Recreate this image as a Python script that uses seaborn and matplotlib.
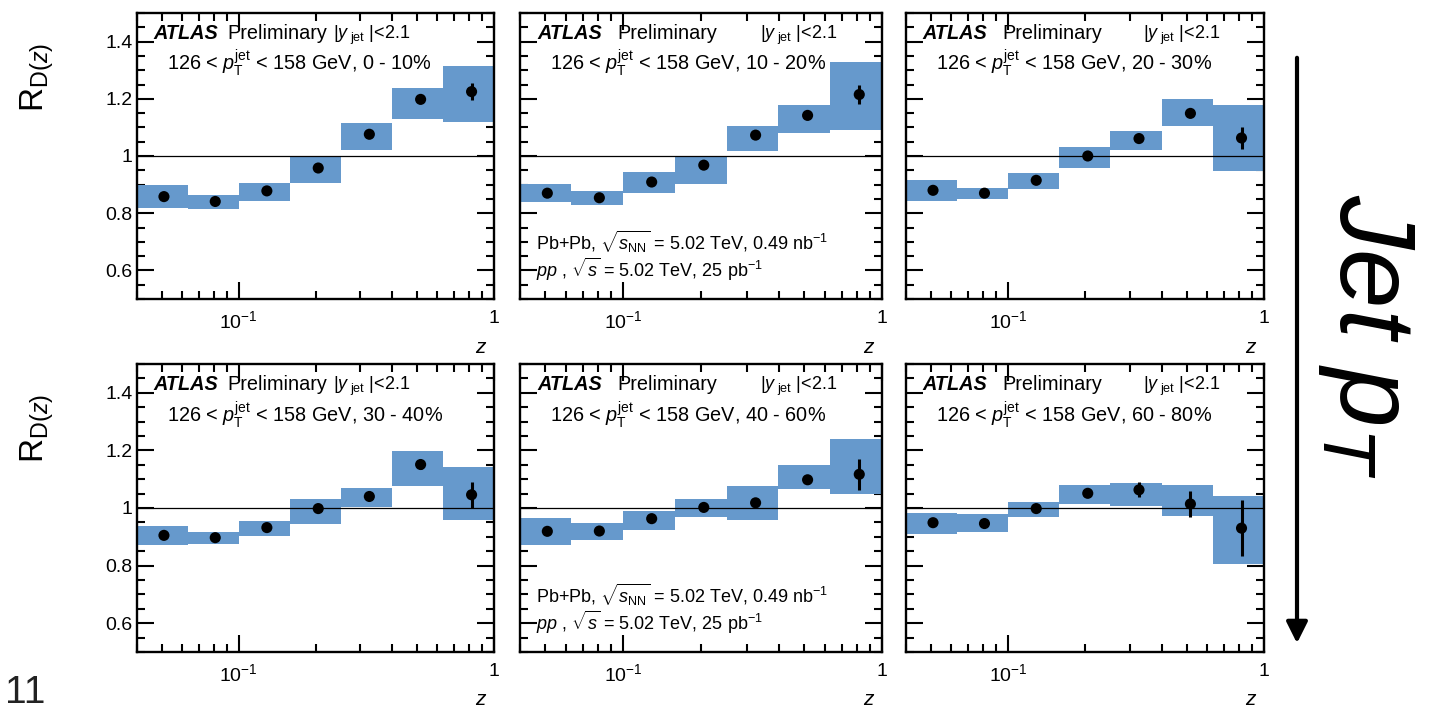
import numpy as np
import pandas as pd
import matplotlib
matplotlib.use("Agg")
import matplotlib.pyplot as plt
from matplotlib.ticker import MultipleLocator, LogLocator, NullFormatter
import seaborn as sns

# ---------------- data ----------------
z_points = [0.051, 0.081, 0.129, 0.205, 0.325, 0.516, 0.817]
z_edges = [0.0398, 0.0631, 0.1, 0.1585, 0.2512, 0.3981, 0.631, 1.0]

centrality = ["0 - 10%", "10 - 20%", "20 - 30%", "30 - 40%", "40 - 60%", "60 - 80%"]

r_0_10 = [0.858, 0.841, 0.878, 0.958, 1.076, 1.198, 1.225]
lo_0_10 = [0.819, 0.813, 0.844, 0.906, 1.021, 1.129, 1.119]
hi_0_10 = [0.899, 0.864, 0.904, 0.996, 1.115, 1.239, 1.315]
st_0_10 = [0.005, 0.005, 0.005, 0.006, 0.008, 0.012, 0.030]

r_10_20 = [0.870, 0.854, 0.909, 0.968, 1.073, 1.142, 1.215]
lo_10_20 = [0.839, 0.829, 0.870, 0.903, 1.018, 1.080, 1.091]
hi_10_20 = [0.901, 0.876, 0.943, 1.000, 1.104, 1.177, 1.329]
st_10_20 = [0.005, 0.005, 0.005, 0.006, 0.008, 0.012, 0.032]

r_20_30 = [0.880, 0.870, 0.915, 1.000, 1.061, 1.149, 1.063]
lo_20_30 = [0.843, 0.848, 0.883, 0.958, 1.021, 1.105, 0.949]
hi_20_30 = [0.915, 0.888, 0.940, 1.030, 1.087, 1.199, 1.180]
st_20_30 = [0.005, 0.005, 0.006, 0.007, 0.009, 0.014, 0.038]

r_30_40 = [0.905, 0.897, 0.932, 0.998, 1.040, 1.151, 1.046]
lo_30_40 = [0.873, 0.874, 0.904, 0.946, 1.004, 1.076, 0.958]
hi_30_40 = [0.939, 0.917, 0.956, 1.032, 1.068, 1.199, 1.144]
st_30_40 = [0.005, 0.005, 0.006, 0.007, 0.010, 0.015, 0.046]

r_40_60 = [0.919, 0.920, 0.963, 1.002, 1.018, 1.098, 1.117]
lo_40_60 = [0.873, 0.889, 0.923, 0.968, 0.957, 1.065, 1.050]
hi_40_60 = [0.964, 0.949, 0.988, 1.032, 1.075, 1.149, 1.240]
st_40_60 = [0.005, 0.005, 0.006, 0.008, 0.012, 0.016, 0.053]

r_60_80 = [0.949, 0.946, 0.998, 1.051, 1.063, 1.014, 0.930]
lo_60_80 = [0.910, 0.915, 0.968, 1.014, 1.006, 0.971, 0.807]
hi_60_80 = [0.984, 0.979, 1.021, 1.080, 1.088, 1.080, 1.043]
st_60_80 = [0.006, 0.006, 0.008, 0.012, 0.026, 0.044, 0.098]

ratios = [r_0_10, r_10_20, r_20_30, r_30_40, r_40_60, r_60_80]
sys_lo = [lo_0_10, lo_10_20, lo_20_30, lo_30_40, lo_40_60, lo_60_80]
sys_hi = [hi_0_10, hi_10_20, hi_20_30, hi_30_40, hi_40_60, hi_60_80]
stat = [st_0_10, st_10_20, st_20_30, st_30_40, st_40_60, st_60_80]

ytick_vals = [0.6, 0.8, 1.0, 1.2, 1.4]
ytick_labels = ["0.6", "0.8", "1", "1.2", "1.4"]
xtick_vals = [0.1, 1.0]
xtick_labels = [r"$10^{-1}$", "1"]

# ---------------- style ----------------
sns.set_theme(style="ticks")
plt.rcParams["font.family"] = ["Liberation Sans", "DejaVu Sans"]
plt.rcParams["mathtext.fontset"] = "custom"
plt.rcParams["mathtext.rm"] = "Liberation Sans"
plt.rcParams["mathtext.it"] = "Liberation Sans:italic"
plt.rcParams["mathtext.bf"] = "Liberation Sans:bold"
plt.rcParams["text.color"] = "black"
plt.rcParams["axes.labelcolor"] = "black"
plt.rcParams["xtick.color"] = "black"
plt.rcParams["ytick.color"] = "black"

BLUE = "#6699cc"
W, H = 1433, 711
fig = plt.figure(figsize=(W / 100, H / 100), dpi=100)

col_l = [137, 520, 906]
col_r = [494, 882, 1264]
row_t = [13, 364]
row_b = [299, 652]

for i in range(6):
    r, c = divmod(i, 3)
    l, rt = col_l[c], col_r[c]
    t, b = row_t[r], row_b[r]
    ax = fig.add_axes([l / W, 1 - b / H, (rt - l) / W, (b - t) / H])
    ax.set_xscale("log")

    lo = np.array(sys_lo[i])
    hi = np.array(sys_hi[i])
    edges = np.array(z_edges)
    ax.bar(edges[:-1], hi - lo, width=np.diff(edges), bottom=lo, align="edge",
           color=BLUE, edgecolor="none", linewidth=0, zorder=2)
    ax.axhline(1.0, color="black", lw=0.9, zorder=3)
    ax.errorbar(z_points, ratios[i], yerr=stat[i], fmt="none", ecolor="black",
                elinewidth=2.2, capsize=0, zorder=4)
    df = pd.DataFrame({"z": z_points, "R": ratios[i]})
    sns.scatterplot(data=df, x="z", y="R", ax=ax, color="black", s=64,
                    edgecolor="none", zorder=5, legend=False)

    ax.set_xlim(0.04, 1.0)
    ax.set_ylim(0.5, 1.5)
    ax.set_xlabel("")
    ax.set_ylabel("")
    ax.set_xticks(xtick_vals, labels=xtick_labels)
    ax.xaxis.set_minor_locator(LogLocator(base=10, subs=np.arange(2, 10), numticks=20))
    ax.xaxis.set_minor_formatter(NullFormatter())
    ax.set_yticks(ytick_vals, labels=ytick_labels if c == 0 else [])
    ax.yaxis.set_minor_locator(MultipleLocator(0.05))
    ax.tick_params(which="both", direction="in", top=True, right=True,
                   width=1.5, colors="black", labelsize=14)
    ax.tick_params(which="major", length=12)
    ax.tick_params(which="minor", length=6)
    ax.tick_params(axis="x", pad=8)
    ax.tick_params(axis="y", pad=3)
    for s in ax.spines.values():
        s.set_linewidth(1.7)
        s.set_color("black")

    # header text
    if c == 0:
        xs = [0.045, 0.252, 0.549]
    else:
        xs = [0.047, 0.268, 0.663]
    ax.text(xs[0], 0.91, "ATLAS", transform=ax.transAxes, fontsize=14.3,
            fontweight="bold", fontstyle="italic", va="baseline")
    ax.text(xs[1], 0.91, "Preliminary", transform=ax.transAxes, fontsize=14.3,
            va="baseline")
    ax.text(xs[2], 0.91, r"|$y_{\ \mathrm{jet}}$ |<2.1", transform=ax.transAxes,
            fontsize=13, va="baseline")
    ax.text(0.084, 0.80, r"126 < $p_{\mathrm{T}}^{\mathrm{jet}}$ < 158 GeV, " + centrality[i],
            transform=ax.transAxes, fontsize=14.3, va="baseline")
    if c == 1:
        ax.text(0.044, 0.171, r"Pb+Pb, $\sqrt{s_{\mathrm{NN}}}$ = 5.02 TeV, 0.49 nb$^{\mathrm{-1}}$",
                transform=ax.transAxes, fontsize=13, va="baseline")
        ax.text(0.044, 0.076, r"$pp$ , $\sqrt{s}$ = 5.02 TeV, 25 pb$^{\mathrm{-1}}$",
                transform=ax.transAxes, fontsize=13, va="baseline")

    # x label "z"
    fig.text((rt - 8) / W, 1 - (353 if r == 0 else 705) / H, "z", fontsize=15,
             fontstyle="italic", ha="right", va="baseline")

# y labels
for yc in [77, 428]:
    fig.text(37 / W, 1 - yc / H, r"R$_{\mathrm{D}(z)}$", fontsize=24,
             rotation=90, ha="center", va="center")

# page number
fig.text(5 / W, 1 - 703 / H, "11", fontsize=28, color="#222222", ha="left", va="baseline")

# arrow and Jet pT
fig.add_artist(matplotlib.patches.FancyArrowPatch(
    (1297 / W, 1 - 55 / H), (1297 / W, 1 - 646 / H), transform=fig.transFigure,
    arrowstyle="-|>", mutation_scale=32, lw=3, color="black"))
fig.text(1366 / W, 1 - 336 / H, r"$Jet\ p_{T}$", fontsize=77, rotation=-90,
         ha="center", va="center")

fig.savefig("out.png", dpi=100)
